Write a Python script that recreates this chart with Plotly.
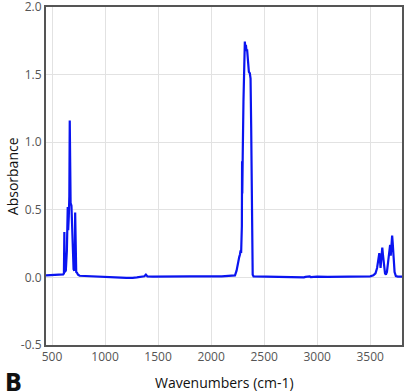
import plotly.graph_objects as go

wavenumber = [443, 470, 500, 530, 560, 590, 605, 612, 616, 619, 630, 640, 648, 652, 658, 663, 667, 670, 675, 683,
              690, 697, 703, 710, 715, 718, 721, 728, 735, 745, 760, 800, 850, 900, 950, 1000, 1050, 1100, 1150,
              1200, 1230, 1260, 1300, 1340, 1370, 1385, 1400, 1450, 1500, 1600, 1700, 1800, 1900, 1950, 2000, 2100,
              2200, 2225, 2240, 2250, 2258, 2265, 2272, 2278, 2283, 2287, 2290, 2292, 2294, 2298, 2305, 2312, 2318,
              2322, 2328, 2333, 2340, 2348, 2356, 2365, 2372, 2378, 2385, 2392, 2400, 2500, 2600, 2700, 2800, 2860,
              2875, 2890, 2930, 2940, 3000, 3100, 3200, 3300, 3400, 3500, 3530, 3550, 3565, 3578, 3586, 3592, 3598,
              3606, 3614, 3620, 3630, 3640, 3648, 3658, 3670, 3680, 3688, 3694, 3700, 3707, 3712, 3720, 3730, 3742,
              3760, 3800]
absorbance = [0.015, 0.016, 0.015, 0.017, 0.016, 0.02, 0.022, 0.03, 0.335, 0.04, 0.05, 0.2, 0.52, 0.35, 0.45, 0.6,
              1.16, 0.6, 0.55, 0.53, 0.35, 0.15, 0.06, 0.05, 0.1, 0.48, 0.08, 0.04, 0.035, 0.02, 0.012, 0.01, 0.008,
              0.006, 0.004, 0.002, 0.0, -0.001, -0.002, -0.004, -0.006, -0.003, 0.0, 0.004, 0.008, 0.02, 0.007,
              0.005, 0.006, 0.005, 0.007, 0.008, 0.008, 0.01, 0.008, 0.008, 0.01, 0.015, 0.05, 0.1, 0.14, 0.15, 0.17,
              0.2, 0.18, 0.3, 0.38, 0.86, 0.62, 0.9, 1.3, 1.6, 1.745, 1.7, 1.72, 1.68, 1.68, 1.6, 1.52, 1.51, 1.47,
              1.1, 0.4, 0.02, 0.008, 0.006, 0.006, 0.005, 0.005, 0.004, 0.0, 0.004, 0.008, 0.002, 0.005, 0.004,
              0.004, 0.004, 0.005, 0.008, 0.015, 0.03, 0.07, 0.15, 0.18, 0.13, 0.07, 0.15, 0.22, 0.17, 0.07, 0.03,
              0.02, 0.04, 0.12, 0.22, 0.24, 0.16, 0.22, 0.31, 0.26, 0.12, 0.04, 0.01, 0.006, 0.006]

x_ticks = [500, 1000, 1500, 2000, 2500, 3000, 3500]
y_ticks = [-0.5, 0.0, 0.5, 1.0, 1.5, 2.0]
y_tick_labels = ["-0.5", "0.0", "0.5", "1.0", "1.5", "2.0"]

fig = go.Figure()
fig.add_trace(go.Scatter(x=wavenumber, y=absorbance, mode="lines",
                         line=dict(color="#0a14f0", width=2.2), showlegend=False))

axis_common = dict(showline=True, linecolor="#555555", linewidth=2, mirror=True,
                   showgrid=True, gridcolor="#e2e2e2", gridwidth=1, zeroline=False,
                   ticks="", automargin=False, ticklabeloverflow="allow",
                   tickfont=dict(family="Open Sans", size=12, color="#555555"))

fig.update_xaxes(range=[443, 3800], tickvals=x_ticks, **axis_common)
fig.update_yaxes(range=[-0.5, 2.0], tickvals=y_ticks, ticktext=y_tick_labels, **axis_common)

title_font = dict(family="Open Sans", size=14, color="#111111")
fig.add_annotation(text="Wavenumbers (cm-1)", xref="paper", yref="paper", x=0.5, y=-0.112,
                   xanchor="center", yanchor="middle", showarrow=False, font=title_font)
fig.add_annotation(text="Absorbance", xref="paper", yref="paper", x=-0.095, y=0.5, textangle=-90,
                   xanchor="center", yanchor="middle", showarrow=False, font=title_font)
fig.add_annotation(text="<b>B</b>", xref="paper", yref="paper", x=-0.12, y=-0.062,
                   xanchor="left", yanchor="top", showarrow=False,
                   font=dict(family="DejaVu Sans Condensed, Liberation Sans Narrow", size=25, color="#111111"))

fig.update_layout(width=412, height=392, margin=dict(l=46, r=10, t=7, b=47),
                  plot_bgcolor="white", paper_bgcolor="white")

fig.write_html("out.html", config={"displayModeBar": False},
               post_script="document.body.style.margin='0';document.body.style.overflow='hidden';")
